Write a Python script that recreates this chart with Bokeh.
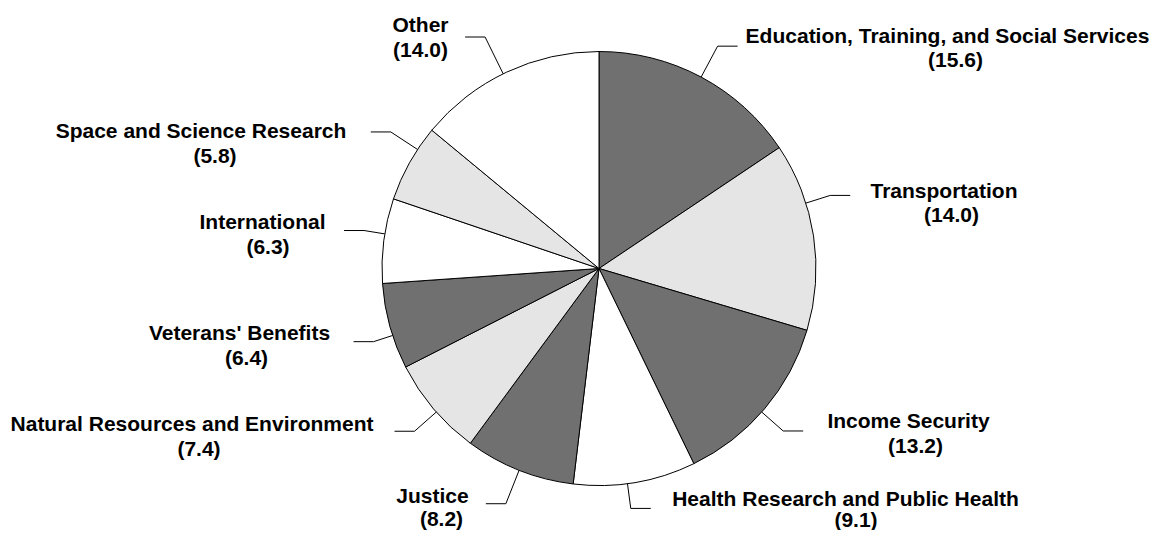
import math
from bokeh.plotting import figure
from bokeh.models import Range1d, ColumnDataSource
from bokeh.embed import file_html
from bokeh.resources import INLINE
from bokeh.core.properties import value

# ---------------- data ----------------
categories = [
    "Education, Training, and Social Services",
    "Transportation",
    "Income Security",
    "Health Research and Public Health",
    "Justice",
    "Natural Resources and Environment",
    "Veterans' Benefits",
    "International",
    "Space and Science Research",
    "Other",
]
values = [15.6, 14.0, 13.2, 9.1, 8.2, 7.4, 6.4, 6.3, 5.8, 14.0]
value_labels = ["(%.1f)" % v for v in values]

# ---------------- style / layout ----------------
fills = ["#707070", "#e5e5e5", "#707070", "#ffffff", "#707070",
         "#e5e5e5", "#707070", "#ffffff", "#e5e5e5", "#ffffff"]

W, H = 1151, 530
CX, CY, R = 598.5, 268.0, 217.0          # pie centre / radius (screen px)
leader_nudge = [0, -8.9, 1.1, 2.0, 0, -1.1, -2.5, 1.8, 4.1, -1.0]   # degrees
leader_ext = [35, 25.5, 28.6, 25, 36, 29, 20, 21, 32, 41]
leader_run = 20
name_pos = [(947, 34.5), (943.5, 189.7), (908, 420.2), (845, 498), (432, 495),
            (191.5, 422.5), (239, 332), (262, 221), (200.5, 130), (420, 24)]
val_pos = [(955, 58.5), (951, 214), (915, 444.5), (855.5, 519), (441, 518),
           (198.5, 447.5), (246, 356.5), (267.5, 245.5), (214.5, 154.5), (420, 48.5)]
FONT_SIZE = "21px"


def dx(sx):
    return sx


def dy(sy):
    return H - sy


total = sum(values)
starts, ends, cum = [], [], 0.0
for v in values:
    starts.append(math.pi / 2 - 2 * math.pi * cum / total)
    cum += v
    ends.append(math.pi / 2 - 2 * math.pi * cum / total)

p = figure(width=W, height=H, output_backend="svg", toolbar_location=None,
           x_range=Range1d(0, W), y_range=Range1d(0, H),
           x_axis_type=None, y_axis_type=None, min_border=0)
p.grid.visible = False
p.outline_line_color = None
p.background_fill_color = "white"
p.border_fill_color = "white"

src = ColumnDataSource(dict(start=starts, end=ends, fill=fills, cat=categories, val=values))
p.wedge(x=dx(CX), y=dy(CY), radius=R, start_angle="start", end_angle="end",
        direction="clock", fill_color="fill", line_color="black", line_width=1,
        source=src)

# leader lines
xs, ys = [], []
cum = 0.0
for i, v in enumerate(values):
    mid = 360.0 * (cum + v / 2) / total + leader_nudge[i]
    cum += v
    t = math.radians(mid)
    s, c = math.sin(t), math.cos(t)
    x0, y0 = CX + R * s, CY - R * c
    x1, y1 = CX + (R + leader_ext[i]) * s, CY - (R + leader_ext[i]) * c
    x2 = x1 + (leader_run if s > 0 else -leader_run)
    xs.append([dx(x0), dx(x1), dx(x2)])
    ys.append([dy(y0), dy(y1), dy(y1)])
p.multi_line(xs=xs, ys=ys, line_color="black", line_width=1)

font = value("Liberation Sans")
p.text(x=[dx(a) for a, b in name_pos], y=[dy(b) for a, b in name_pos], text=categories,
       text_align="center", text_baseline="middle", text_font=font,
       text_font_style="bold", text_font_size=FONT_SIZE, text_color="black")
p.text(x=[dx(a) for a, b in val_pos], y=[dy(b) for a, b in val_pos], text=value_labels,
       text_align="center", text_baseline="middle", text_font=font,
       text_font_style="bold", text_font_size=FONT_SIZE, text_color="black")

open("out.html", "w").write(file_html(p, INLINE))
